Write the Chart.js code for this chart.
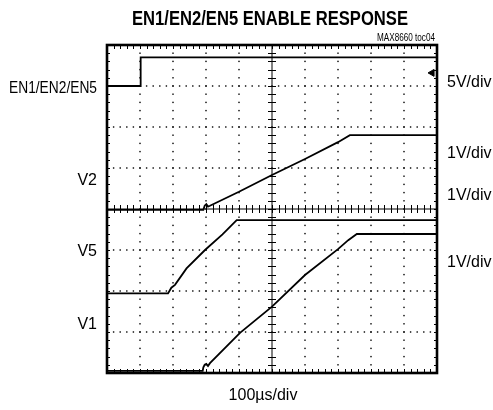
<!DOCTYPE html>
<html>
<head>
<meta charset="utf-8">
<script src="https://cdn.jsdelivr.net/npm/chart.js@4"></script>
<style>
  body { margin: 0; background: #fff; }
  canvas { display: block; }
</style>
</head>
<body>
<canvas id="scope" width="493" height="410"></canvas>
<script>
// time in microseconds (100us/div), level in screen divisions (0 = bottom of screen)
const enTime = [0, 102, 102, 1000];
const enLevel = [7.0, 7.0, 7.7, 7.7];

const v2Time = [0, 292, 296, 301, 306, 312, 400, 500, 600, 700, 736, 1000];
const v2Level = [3.98, 3.98, 4.08, 4.12, 4.06, 4.08, 4.42, 4.83, 5.22, 5.63, 5.8, 5.8];

const v5Time = [0, 185, 195, 206, 241, 297, 350, 393, 1000];
const v5Level = [1.94, 1.94, 2.08, 2.15, 2.55, 3.0, 3.38, 3.73, 3.73];

const v1Time = [0, 290, 292, 296, 301, 306, 312, 403, 500, 600, 700, 731, 757, 1000];
const v1Level = [0.05, 0.05, 0.14, 0.2, 0.22, 0.17, 0.24, 0.98, 1.62, 2.39, 3.02, 3.24, 3.39, 3.39];

const markerTime = [985];
const markerLevel = [7.32];

const xDivs = 10;
const yDivs = 8;

const leftLabels = ['EN1/EN2/EN5', 'V2', 'V5', 'V1'];
const rightLabels = ['5V/div', '1V/div', '1V/div', '1V/div'];

function toPoints(xs, ys) {
  return xs.map((x, i) => ({ x: x, y: ys[i] }));
}

function trace(xs, ys) {
  return {
    data: toPoints(xs, ys),
    showLine: true,
    borderColor: '#000',
    borderWidth: 1.8,
    pointRadius: 0,
    tension: 0
  };
}

// oscilloscope graticule: dotted grid, ticked centre lines, heavy frame
const graticule = {
  id: 'graticule',
  beforeDatasetsDraw(chart) {
    const ctx = chart.ctx;
    const xs = chart.scales.x;
    const ys = chart.scales.y;
    const a = chart.chartArea;
    const stepX = 1000 / xDivs;
    ctx.save();
    ctx.fillStyle = '#000';

    // dotted verticals
    for (let i = 1; i < xDivs; i++) {
      if (i === xDivs / 2) continue;
      const px = xs.getPixelForValue(i * stepX);
      for (let j = 0; j <= yDivs * 5; j++) {
        const py = ys.getPixelForValue(j / 5);
        ctx.fillRect(px - 0.7, py - 0.7, 1.4, 1.4);
      }
    }
    // dotted horizontals
    for (let j = 1; j < yDivs; j++) {
      if (j === yDivs / 2) continue;
      const py = ys.getPixelForValue(j);
      for (let i = 0; i <= xDivs * 5; i++) {
        const px = xs.getPixelForValue(i * stepX / 5);
        ctx.fillRect(px - 0.7, py - 0.7, 1.4, 1.4);
      }
    }

    ctx.strokeStyle = '#000';
    ctx.lineWidth = 1;
    const cx = xs.getPixelForValue(500);
    const cy = ys.getPixelForValue(yDivs / 2);
    ctx.beginPath();
    ctx.moveTo(cx, a.top);
    ctx.lineTo(cx, a.bottom);
    ctx.moveTo(a.left, cy);
    ctx.lineTo(a.right, cy);
    for (let j = 1; j < yDivs * 5; j++) {
      const py = Math.round(ys.getPixelForValue(j / 5)) + 0.5;
      ctx.moveTo(cx - 4, py);
      ctx.lineTo(cx + 4, py);
      ctx.moveTo(a.left, py);
      ctx.lineTo(a.left + 3, py);
      ctx.moveTo(a.right, py);
      ctx.lineTo(a.right - 3, py);
    }
    for (let i = 1; i < xDivs * 5; i++) {
      const px = Math.round(xs.getPixelForValue(i * stepX / 5)) + 0.5;
      ctx.moveTo(px, cy - 4);
      ctx.lineTo(px, cy + 4);
      ctx.moveTo(px, a.top);
      ctx.lineTo(px, a.top + 4);
      ctx.moveTo(px, a.bottom);
      ctx.lineTo(px, a.bottom - 4);
    }
    ctx.stroke();

    ctx.lineWidth = 2.6;
    ctx.strokeRect(a.left, a.top, a.right - a.left, a.bottom - a.top);
    ctx.restore();
  },
  afterDraw(chart) {
    const ctx = chart.ctx;
    const a = chart.chartArea;
    ctx.save();
    ctx.fillStyle = '#000';

    // condensed bold title: squeeze a regular face into the reference width
    ctx.font = "bold 21px 'Liberation Sans', Arial, sans-serif";
    ctx.textAlign = 'center';
    ctx.fillText('EN1/EN2/EN5 ENABLE RESPONSE', 270, 25, 276);

    ctx.font = "10px 'Liberation Sans', sans-serif";
    ctx.textAlign = 'right';
    ctx.fillText('MAX8660 toc04', a.right - 2, 41, 58);

    ctx.font = "16px 'Liberation Sans', sans-serif";
    const leftBase = [93, 185, 256, 329];
    leftLabels.forEach((t, i) => {
      ctx.fillText(t, 97, leftBase[i], i === 0 ? 88 : undefined);
    });

    ctx.textAlign = 'left';
    const rightBase = [86.7, 158.3, 200, 267.3];
    rightLabels.forEach((t, i) => {
      ctx.fillText(t, 447, rightBase[i]);
    });

    ctx.textAlign = 'center';
    ctx.fillText('100\u00b5s/div', 263, 400);
    ctx.restore();
  }
};

new Chart(document.getElementById('scope'), {
  type: 'scatter',
  data: {
    datasets: [
      trace(enTime, enLevel),
      trace(v2Time, v2Level),
      trace(v5Time, v5Level),
      trace(v1Time, v1Level),
      {
        data: toPoints(markerTime, markerLevel),
        pointStyle: 'triangle',
        rotation: -90,
        pointRadius: 4,
        backgroundColor: '#000',
        borderColor: '#000',
        borderWidth: 1
      }
    ]
  },
  options: {
    responsive: false,
    animation: false,
    layout: { padding: { left: 107, right: 56, top: 45, bottom: 37 } },
    plugins: { legend: { display: false }, tooltip: { enabled: false } },
    scales: {
      x: { type: 'linear', min: 0, max: 1000, display: false },
      y: { type: 'linear', min: 0, max: yDivs, display: false }
    }
  },
  plugins: [graticule]
});
</script>
</body>
</html>
